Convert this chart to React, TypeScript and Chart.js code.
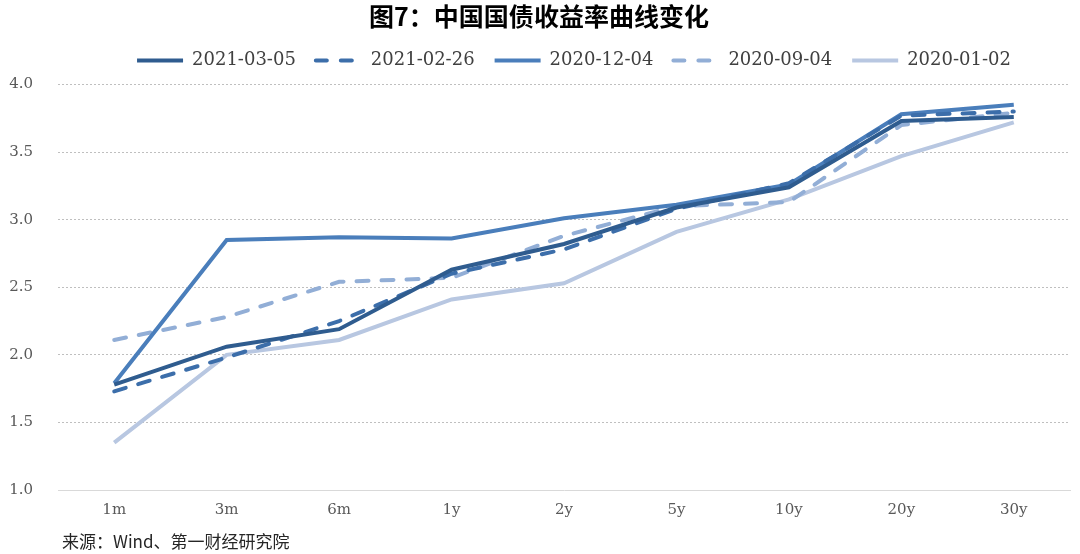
import React, { useEffect, useRef } from "react";
import { Chart, registerables } from "chart.js";

Chart.register(...registerables);

const tenors = ["1m", "3m", "6m", "1y", "2y", "5y", "10y", "20y", "30y"];
const seriesNames = ["2021-03-05", "2021-02-26", "2020-12-04", "2020-09-04", "2020-01-02"];
const y20210305 = [1.78, 2.06, 2.19, 2.63, 2.82, 3.09, 3.24, 3.73, 3.76];
const y20210226 = [1.73, 1.98, 2.25, 2.6, 2.78, 3.08, 3.27, 3.77, 3.8];
const y20201204 = [1.79, 2.85, 2.87, 2.86, 3.01, 3.11, 3.26, 3.78, 3.85];
const y20200904 = [2.11, 2.28, 2.54, 2.57, 2.88, 3.1, 3.13, 3.7, 3.79];
const y20200102 = [1.35, 2.0, 2.11, 2.41, 2.53, 2.91, 3.15, 3.47, 3.72];
const seriesColors = ["#2F5C8F", "#3C6EAA", "#4A7EBB", "#92AED6", "#B8C7E1"];
const seriesDashed = [false, true, false, true, false];

const serif = "'DejaVu Serif', 'Noto Sans CJK SC', serif";

// legend sits a bit right of centre and leaves more room below it than chart.js does
const legendTweak = {
  id: "legendTweak",
  beforeLayout(chart: any) {
    const legend = chart.legend;
    if (legend && !legend._tweaked) {
      const fit = legend.fit;
      legend.fit = function () {
        fit.call(this);
        this.height += 5;
      };
      legend._tweaked = true;
    }
  },
  afterLayout(chart: any) {
    if (chart.legend) chart.legend.left += 70;
  },
};

const App: React.FC = () => {
  const canvasRef = useRef<HTMLCanvasElement>(null);

  useEffect(() => {
    if (!canvasRef.current) return;
    const values = [y20210305, y20210226, y20201204, y20200904, y20200102];
    const chart = new Chart(canvasRef.current, {
      type: "line",
      data: {
        labels: tenors,
        datasets: seriesNames.map((name, i) => ({
          label: name,
          data: values[i],
          borderColor: seriesColors[i],
          backgroundColor: seriesColors[i],
          borderWidth: 4,
          borderDash: seriesDashed[i] ? [12, 13] : [],
          borderCapStyle: seriesDashed[i] ? "round" : "butt",
          pointRadius: 0,
          pointStyle: "line",
          tension: 0,
          fill: false,
        })),
      },
      options: {
        animation: false,
        responsive: false,
        layout: { padding: { left: 8, right: 10, bottom: 24, top: 0 } },
        plugins: {
          title: {
            display: true,
            text: "图7：中国国债收益率曲线变化",
            color: "#000",
            font: { family: "'Noto Sans CJK SC', sans-serif", size: 25, weight: "bold", lineHeight: 1.1 },
            padding: { top: 3, bottom: 1 },
          },
          legend: {
            display: true,
            position: "top",
            labels: {
              usePointStyle: true,
              pointStyle: "line",
              pointStyleWidth: 46,
              padding: 20,
              color: "#404040",
              font: { family: serif, size: 18 },
              generateLabels: (c: any) =>
                Chart.defaults.plugins.legend.labels.generateLabels(c).map((item: any, i: number) => ({
                  ...item,
                  lineDash: seriesDashed[i] ? [11, 14] : [],
                  lineCap: seriesDashed[i] ? "round" : "butt",
                  lineWidth: 4,
                  strokeStyle: seriesColors[i],
                })),
            },
          },
          tooltip: { enabled: false },
        },
        scales: {
          x: {
            offset: true,
            grid: { display: false, drawTicks: false },
            border: { display: true, color: "#D9D9D9", width: 1 },
            ticks: {
              color: "#595959",
              padding: 11,
              font: { family: serif, size: 15 },
            },
          },
          y: {
            min: 1.0,
            max: 4.0,
            afterFit: (scale: any) => {
              scale.width = 50;
            },
            grid: {
              color: (ctx: any) => (ctx.tick && ctx.tick.value === 1 ? "rgba(0,0,0,0)" : "#BFBFBF"),
              drawTicks: false,
              lineWidth: 1,
            },
            border: { display: false, dash: [2, 2] },
            ticks: {
              stepSize: 0.5,
              color: "#595959",
              padding: 25,
              font: { family: serif, size: 15 },
              callback: (v: any) => Number(v).toFixed(1),
            },
          },
        },
      },
      plugins: [legendTweak],
    });
    return () => chart.destroy();
  }, []);

  return (
    <div style={{ position: "fixed", left: 0, top: 0, width: 1080, height: 554, background: "#fff" }}>
      <canvas ref={canvasRef} width={1080} height={554} style={{ width: 1080, height: 554 }} />
      <div
        style={{
          position: "absolute",
          left: 62,
          top: 530,
          fontFamily: "'Noto Sans CJK SC', sans-serif",
          fontSize: 17,
          color: "#262626",
          lineHeight: "22px",
        }}
      >
        来源：Wind、第一财经研究院
      </div>
    </div>
  );
};

export default App;
